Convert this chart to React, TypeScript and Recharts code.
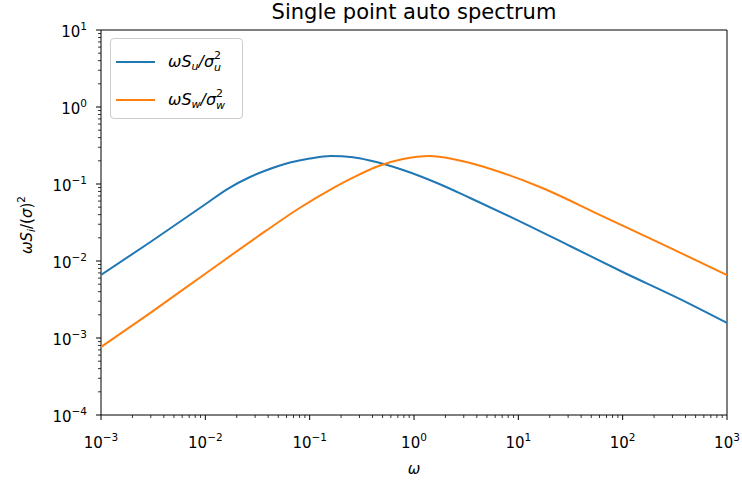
import { LineChart, Line, XAxis, YAxis, ReferenceArea, Legend } from 'recharts'

// values (log-log)
const uOmega = [0.001, 0.003, 0.01, 0.0161, 0.0268, 0.039, 0.0648, 0.1, 0.16, 0.26, 0.378, 0.785, 1.66, 3.45, 8.9, 31.3, 100, 355, 1000]
const uSpec = [0.00658, 0.0178, 0.0545, 0.0853, 0.1233, 0.152, 0.19, 0.2143, 0.2305, 0.222, 0.2017, 0.152, 0.103, 0.0658, 0.0361, 0.01567, 0.0072, 0.0032, 0.00157]

const wOmega = [0.001, 0.003, 0.01, 0.0373, 0.0807, 0.1675, 0.272, 0.472, 0.785, 1.42, 3.45, 7.1, 16.1, 61, 228, 1000]
const wSpec = [0.000764, 0.00214, 0.00684, 0.0242, 0.0492, 0.0887, 0.125, 0.1738, 0.2113, 0.2312, 0.1875, 0.139, 0.0914, 0.0395, 0.0171, 0.00658]

const xMajor = [1e-3, 1e-2, 1e-1, 1, 10, 100, 1000]
const xExponents = ['−3', '−2', '−1', '0', '1', '2', '3']
const yMajor = [1e-4, 1e-3, 1e-2, 1e-1, 1, 10]
const yExponents = ['−4', '−3', '−2', '−1', '0', '1']

const FONT = '"DejaVu Sans", sans-serif'
const BLUE = '#1f77b4'
const ORANGE = '#ff7f0e'

// minor ticks at 2..9 of each decade
const withMinor = (major: number[]) => {
  const out: number[] = []
  major.forEach((m, i) => {
    out.push(m)
    if (i < major.length - 1) for (let k = 2; k < 10; k++) out.push(Number((m * k).toPrecision(3)))
  })
  return out
}

const uData = uOmega.map((w, i) => ({ w, s: uSpec[i] }))
const wData = wOmega.map((w, i) => ({ w, s: wSpec[i] }))

function XTick({ x, y, payload }: any) {
  const i = xMajor.indexOf(payload.value)
  if (i < 0) return <line x1={x} x2={x} y1={y} y2={y + 3} stroke="#000" strokeWidth={0.8} />
  return (
    <g>
      <line x1={x} x2={x} y1={y} y2={y + 5} stroke="#000" strokeWidth={1} />
      <text x={x} y={y + 33} textAnchor="middle" fontSize={15} fontFamily={FONT} fill="#000">
        10<tspan dy={-7} fontSize={10.5}>{xExponents[i]}</tspan>
      </text>
    </g>
  )
}

function YTick({ x, y, payload }: any) {
  const i = yMajor.indexOf(payload.value)
  if (i < 0) return <line x1={x - 3} x2={x} y1={y} y2={y} stroke="#000" strokeWidth={0.8} />
  return (
    <g>
      <line x1={x - 5} x2={x} y1={y} y2={y} stroke="#000" strokeWidth={1} />
      <text x={x - 14} y={y + 7} textAnchor="end" fontSize={15} fontFamily={FONT} fill="#000">
        10<tspan dy={-7} fontSize={10.5}>{yExponents[i]}</tspan>
      </text>
    </g>
  )
}

function YLabel() {
  return (
    <text
      x={32}
      y={225}
      transform="rotate(-90, 32, 225)"
      textAnchor="middle"
      fontSize={15}
      fontFamily={FONT}
      fill="#000"
    >
      <tspan fontStyle="italic">ωS</tspan>
      <tspan fontStyle="italic" fontSize={10.5} dy={3}>i</tspan>
      <tspan dy={-3}>/(</tspan>
      <tspan fontStyle="italic">σ</tspan>
      <tspan>)</tspan>
      <tspan fontSize={10.5} dy={-7}>2</tspan>
    </text>
  )
}

function XLabel() {
  return (
    <text x={414} y={474} textAnchor="middle" fontSize={15} fontStyle="italic" fontFamily={FONT} fill="#000">
      ω
    </text>
  )
}

// legend label: ωS_x / σ_x^2 drawn as one small svg text so nothing overlaps
function MathName({ sym }: { sym: string }) {
  return (
    <svg width={70} height={26} style={{ display: 'block' }}>
      <text x={0} y={18} fontSize={16} fontFamily={FONT} fontStyle="italic" fill="#000">
        ωS<tspan fontSize={11} dy={3}>{sym}</tspan>
        <tspan dy={-3}>/σ</tspan>
        <tspan fontSize={11} dy={-8} fontStyle="normal">2</tspan>
        <tspan fontSize={11} dx={-7} dy={12}>{sym}</tspan>
      </text>
    </svg>
  )
}

const series = [
  { sym: 'u', color: BLUE },
  { sym: 'w', color: ORANGE },
]

function LegendBox() {
  return (
    <div
      style={{
        width: 133,
        height: 81,
        boxSizing: 'border-box',
        border: '1px solid #cccccc',
        borderRadius: 4,
        background: 'rgba(255,255,255,0.8)',
        position: 'relative',
      }}
    >
      {series.map((s, i) => (
        <div key={s.sym} style={{ position: 'absolute', left: 0, top: 10 + i * 38, height: 26, display: 'flex', alignItems: 'center' }}>
          <svg width={57} height={4} style={{ display: 'block' }}>
            <line x1={5} x2={44} y1={2} y2={2} stroke={s.color} strokeWidth={2} />
          </svg>
          <MathName sym={s.sym} />
        </div>
      ))}
    </div>
  )
}

export default function App() {
  return (
    <div style={{ position: 'absolute', left: 0, top: 0, width: 742, height: 483, background: '#fff' }}>
      <div
        style={{
          position: 'absolute',
          left: 101,
          width: 626,
          top: 0,
          textAlign: 'center',
          fontFamily: FONT,
          fontSize: 21,
          color: '#000',
        }}
      >
        Single point auto spectrum
      </div>
      <LineChart width={742} height={483} margin={{ top: 30, right: 15, bottom: 0, left: 0 }}>
        <XAxis
          dataKey="w"
          type="number"
          scale="log"
          domain={[1e-3, 1e3]}
          allowDataOverflow
          ticks={withMinor(xMajor)}
          interval={0}
          tick={<XTick />}
          tickLine={false}
          tickSize={0}
          tickMargin={0}
          axisLine={false}
          height={68}
          label={<XLabel />}
        />
        <YAxis
          type="number"
          scale="log"
          domain={[1e-4, 10]}
          allowDataOverflow
          ticks={withMinor(yMajor)}
          interval={0}
          tick={<YTick />}
          tickLine={false}
          tickSize={0}
          tickMargin={0}
          axisLine={false}
          width={101}
          label={<YLabel />}
        />
        <ReferenceArea x1={1e-3} x2={1e3} y1={1e-4} y2={10} fill="none" stroke="#000" strokeWidth={1} fillOpacity={0} />
        <Line data={uData} dataKey="s" type="monotone" stroke={BLUE} strokeWidth={2} dot={false} isAnimationActive={false} />
        <Line data={wData} dataKey="s" type="monotone" stroke={ORANGE} strokeWidth={2} dot={false} isAnimationActive={false} />
        <Legend
          layout="vertical"
          verticalAlign="middle"
          align="center"
          wrapperStyle={{ left: 110, top: 38, width: 133 }}
          content={() => <LegendBox />}
        />
      </LineChart>
    </div>
  )
}
